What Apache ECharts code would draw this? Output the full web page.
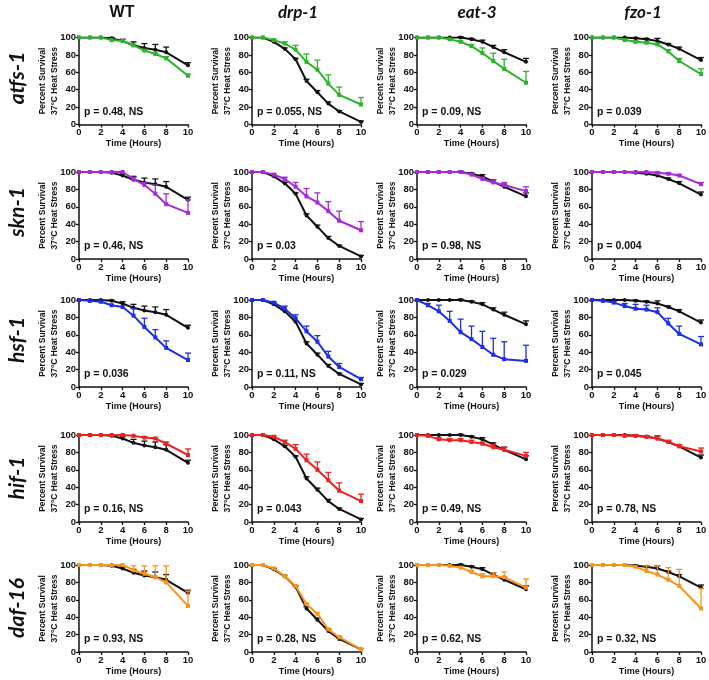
<!DOCTYPE html>
<html><head><meta charset="utf-8">
<script src="https://cdn.jsdelivr.net/npm/echarts@6/dist/echarts.min.js"></script>
<style>html,body{margin:0;padding:0;background:#fff}#c{width:709px;height:680px}</style>
</head><body><div id="c"></div>
<script>
// ---------- DATA ----------
const hours = [0, 1, 2, 3, 4, 5, 6, 7, 8, 10];
const strainLabels = ['WT', 'drp-1', 'eat-3', 'fzo-1'];
const rnaiLabels = ['atfs-1', 'skn-1', 'hsf-1', 'hif-1', 'daf-16'];
const yTicks = [0, 20, 40, 60, 80, 100];
const xTicks = [0, 2, 4, 6, 8, 10];

// control (black) curves, one per strain column
const controlSurvival = [
  [100,100,100,99,96,91,88,86,83,68],
  [100,100,95,87,75,50,37,24,15,3],
  [100,100,100,100,100,98,95,89,83,72],
  [100,100,100,100,99,98,96,92,87,74]
];
const controlError = [
  [0,0,0,1,2,4,5,6,6,3],
  [0,0,1,1,1,2,2,2,1,1],
  [0,0,0,0,1,1,2,2,3,4],
  [0,0,0,0,1,1,3,1,2,3]
];

const atfs1Survival = [
  [100,100,100,97,96,91,85,81,76,56],
  [100,100,97,93,86,72,63,47,34,23],
  [100,100,100,98,95,90,82,73,64,48],
  [100,100,100,97,95,94,92,84,73,58]
];
const atfs1Error = [
  [0,0,0,0,0,1,1,1,2,2],
  [0,0,1,2,5,9,11,10,9,8],
  [0,0,0,0,1,2,6,9,11,13],
  [0,0,0,1,1,1,1,2,3,6]
];
const skn1Survival = [
  [100,100,100,100,100,92,85,75,63,53],
  [100,100,97,92,83,72,65,55,44,33],
  [100,100,100,100,100,97,92,88,85,78],
  [100,100,100,100,100,100,99,98,96,86]
];
const skn1Error = [
  [0,0,0,0,0,2,3,10,12,15],
  [0,0,1,2,5,9,11,11,11,10],
  [0,0,0,0,0,1,2,3,3,5],
  [0,0,0,0,0,0,1,1,1,2]
];
const hsf1Survival = [
  [100,99,98,94,92,82,69,57,45,31],
  [100,100,97,90,79,64,52,35,23,9],
  [100,94,87,76,63,55,46,37,32,30],
  [100,99,97,93,90,89,86,73,61,49]
];
const hsf1Error = [
  [0,0,0,0,0,8,10,9,8,8],
  [0,0,1,3,4,6,7,6,4,2],
  [0,2,7,11,15,15,18,19,20,18],
  [0,1,1,3,5,5,5,6,9,9]
];
const hif1Survival = [
  [100,100,100,100,100,99,97,96,90,77],
  [100,100,98,92,84,71,60,48,36,24],
  [100,99,95,94,94,92,90,86,83,76],
  [100,100,100,99,99,98,96,92,87,81]
];
const hif1Error = [
  [0,0,0,0,0,0,1,1,2,7],
  [0,0,1,2,5,7,9,9,9,8],
  [0,1,2,2,2,2,2,3,3,4],
  [0,0,0,1,1,1,3,2,2,4]
];
const daf16Survival = [
  [100,100,100,100,100,94,90,86,80,53],
  [100,100,96,87,76,55,44,26,17,3],
  [100,100,100,99,97,92,87,87,86,74],
  [100,100,100,100,98,93,89,83,76,50]
];
const daf16Error = [
  [0,0,0,0,0,5,9,13,19,17],
  [0,0,1,1,1,1,1,1,1,1],
  [0,0,0,0,0,2,3,4,6,10],
  [0,0,0,0,0,6,10,14,19,23]
];

const pLabelsAtfs1 = ['p = 0.48, NS', 'p = 0.055, NS', 'p = 0.09, NS', 'p = 0.039'];
const pLabelsSkn1  = ['p = 0.46, NS', 'p = 0.03', 'p = 0.98, NS', 'p = 0.004'];
const pLabelsHsf1  = ['p = 0.036', 'p = 0.11, NS', 'p = 0.029', 'p = 0.045'];
const pLabelsHif1  = ['p = 0.16, NS', 'p = 0.043', 'p = 0.49, NS', 'p = 0.78, NS'];
const pLabelsDaf16 = ['p = 0.93, NS', 'p = 0.28, NS', 'p = 0.62, NS', 'p = 0.32, NS'];

// ---------- STYLE / LAYOUT ----------
const rnaiColors = ['#2BB52B', '#A52BD9', '#1E2EE6', '#EE2020', '#F7941D'];
const rowSurvival = [atfs1Survival, skn1Survival, hsf1Survival, hif1Survival, daf16Survival];
const rowError = [atfs1Error, skn1Error, hsf1Error, hif1Error, daf16Error];
const rowP = [pLabelsAtfs1, pLabelsSkn1, pLabelsHsf1, pLabelsHif1, pLabelsDaf16];

const colLeft = [79, 252, 417, 592];
const rowTop = [37.5, 172, 300, 435, 565];
const plotW = 109, plotH = 87;
const AX = 'Liberation Sans, Arial, sans-serif';
const HEAD = 'Lato, Open Sans, sans-serif';

const grids = [], xAxes = [], yAxes = [], series = [], graphics = [];

function errSeries(idx, xs, ys, es, color, z) {
  const d = [];
  xs.forEach((x, i) => { if (es[i] > 0) d.push([x, ys[i], ys[i] + es[i]]); });
  return {
    type: 'custom', xAxisIndex: idx, yAxisIndex: idx, clip: false, z: z,
    data: d, encode: { x: 0, y: [1, 2] }, silent: true,
    renderItem: function (params, api) {
      const p0 = api.coord([api.value(0), api.value(1)]);
      const p1 = api.coord([api.value(0), api.value(2)]);
      return { type: 'group', children: [
        { type: 'line', shape: { x1: p0[0], y1: p0[1], x2: p1[0], y2: p1[1] }, style: { stroke: color, lineWidth: 1.3 } },
        { type: 'line', shape: { x1: p1[0] - 3, y1: p1[1], x2: p1[0] + 3, y2: p1[1] }, style: { stroke: color, lineWidth: 1.3 } }
      ]};
    }
  };
}

for (let r = 0; r < 5; r++) {
  for (let c = 0; c < 4; c++) {
    const idx = r * 4 + c;
    grids.push({ left: colLeft[c], top: rowTop[r], width: plotW, height: plotH, outerBoundsMode: 'none', containLabel: false });
    xAxes.push({
      gridIndex: idx, type: 'value', min: 0, max: 10, interval: 2,
      name: 'Time (Hours)', nameLocation: 'middle', nameGap: 15, nameMoveOverlap: false,
      nameTextStyle: { fontFamily: AX, fontWeight: 'bold', fontSize: 9, color: '#111' },
      axisLine: { onZero: false, lineStyle: { color: '#111', width: 1.5 } },
      axisTick: { show: true, length: 3, lineStyle: { color: '#111', width: 1.3 } },
      axisLabel: { fontFamily: AX, fontWeight: 'bold', fontSize: 9.5, color: '#111', margin: 3, customValues: xTicks },
      splitLine: { show: false }
    });
    yAxes.push({
      gridIndex: idx, type: 'value', min: 0, max: 100, interval: 20,
      name: 'Percent Survival\n37°C Heat Stress', nameLocation: 'middle', nameRotate: 90, nameGap: 18, nameMoveOverlap: false,
      nameTextStyle: { fontFamily: AX, fontWeight: 'bold', fontSize: 8.5, lineHeight: 12, color: '#111' },
      axisLine: { onZero: false, lineStyle: { color: '#111', width: 1.5 } },
      axisTick: { show: true, length: 3, lineStyle: { color: '#111', width: 1.3 } },
      axisLabel: { fontFamily: AX, fontWeight: 'bold', fontSize: 9.5, color: '#111', margin: 3 },
      splitLine: { show: false }
    });
    const ctrl = controlSurvival[c], ctrlE = controlError[c];
    const ys = rowSurvival[r][c], es = rowError[r][c];
    const col = rnaiColors[r];
    series.push(errSeries(idx, hours, ctrl, ctrlE, '#111', 2));
    series.push({
      type: 'line', xAxisIndex: idx, yAxisIndex: idx, z: 3,
      data: hours.map((h, i) => [h, ctrl[i]]),
      symbol: 'circle', symbolSize: 4, showSymbol: true,
      lineStyle: { color: '#111', width: 2 }, itemStyle: { color: '#111' }, silent: true
    });
    series.push(errSeries(idx, hours, ys, es, col, 4));
    series.push({
      type: 'line', xAxisIndex: idx, yAxisIndex: idx, z: 5,
      data: hours.map((h, i) => [h, ys[i]]),
      symbol: 'rect', symbolSize: 4, showSymbol: true,
      lineStyle: { color: col, width: 2 }, itemStyle: { color: col }, silent: true
    });
    graphics.push({
      type: 'text', left: colLeft[c] + 5, top: rowTop[r] + plotH - 18,
      style: { text: rowP[r][c], font: 'bold 10.5px ' + AX, fill: '#111' }
    });
  }
}

const headX = [122, 298, 477, 643];
strainLabels.forEach((s, c) => {
  graphics.push({
    type: 'text', x: headX[c], y: 13,
    style: { text: s, font: (c === 0 ? 'bold 16px ' + AX : 'italic bold 17px ' + HEAD), fill: '#111', textAlign: 'center', textVerticalAlign: 'middle' }
  });
});
const rowLabelY = [78, 212, 340, 478, 608];
rnaiLabels.forEach((s, r) => {
  graphics.push({
    type: 'text', x: 17, y: rowLabelY[r], rotation: Math.PI / 2,
    style: { text: s, font: 'italic bold 21px ' + HEAD, fill: '#111', textAlign: 'center', textVerticalAlign: 'middle' }
  });
});

const chart = echarts.init(document.getElementById('c'), null, { renderer: 'canvas' });
chart.setOption({
  animation: false,
  backgroundColor: '#fff',
  grid: grids, xAxis: xAxes, yAxis: yAxes, series: series,
  graphic: graphics
});
</script></body></html>
